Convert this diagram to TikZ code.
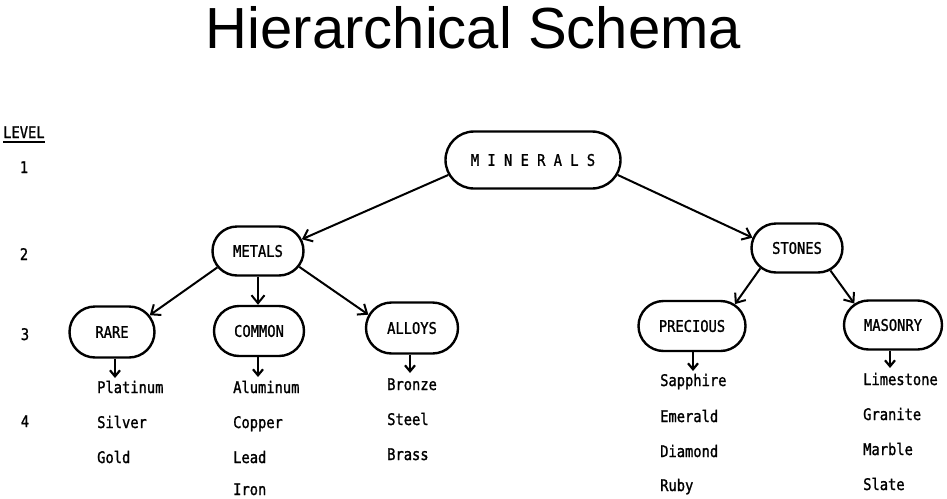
\documentclass[tikz,border=0pt]{standalone}
\usepackage{fontspec}
\usetikzlibrary{shapes.misc,arrows.meta}
\newfontfamily\titlefont{Liberation Sans}
\newfontfamily\twfont[FakeStretch=0.86,FakeBold=1.3]{DejaVu Sans Mono}
\begin{document}
\begin{tikzpicture}[x=1pt,y=-1pt,
  box/.style={rounded rectangle,draw,line width=2.4pt,inner sep=0pt,font=\twfont\fontsize{16}{18}\selectfont},
  arr/.style={line width=2pt,-{Straight Barb[length=8pt,width=13pt,line width=2pt]}},
  sarr/.style={line width=2pt,-{Straight Barb[length=6pt,width=10pt,line width=2.2pt]}},
  leaf/.style={anchor=base west,inner sep=0pt,font=\twfont\fontsize{16}{18}\selectfont},
  lvl/.style={anchor=base,inner sep=0pt,font=\twfont\fontsize{16}{18}\selectfont}]
\useasboundingbox (0,0) rectangle (947,498);
% title
\node[anchor=base,inner sep=0pt,font=\titlefont\fontsize{58}{60}\selectfont] (title) at (473.5,48) {Hierarchical Schema};
% levels
\node[anchor=base west,inner sep=0pt,font=\twfont\fontsize{16}{18}\selectfont] (level) at (3,138) {LEVEL};
\draw[line width=1.6pt] (level.base west) ++(0,4) coordinate (ulA) -- (ulA -| level.east);
\node[lvl] (l1) at (24,173) {1};
\node[lvl] (l2) at (24,260) {2};
\node[lvl] (l3) at (25,340) {3};
\node[lvl] (l4) at (25,427) {4};
% boxes
\node[box,minimum width=175pt,minimum height=57pt] (minerals) at (533,160) {M I N E R A L S};
\node[box,minimum width=91pt,minimum height=49pt] (metals) at (258,251) {METALS};
\node[box,minimum width=91pt,minimum height=49pt] (stones) at (797,248) {STONES};
\node[box,minimum width=85pt,minimum height=51pt] (rare) at (112,332) {RARE};
\node[box,minimum width=90pt,minimum height=50pt] (common) at (259,331) {COMMON};
\node[box,minimum width=92pt,minimum height=51pt] (alloys) at (412,328) {ALLOYS};
\node[box,minimum width=107pt,minimum height=50pt] (precious) at (692,326) {PRECIOUS};
\node[box,minimum width=98pt,minimum height=49pt] (masonry) at (893,325) {MASONRY};
% connectors
\draw[arr] (minerals.190) -- (metals.15);
\draw[arr] (minerals.350) -- (stones.167);
\draw[arr] (metals.202) -- (rare.24);
\draw[arr] (metals.south) -- (metals.south |- common.north);
\draw[arr] (metals.339) -- (alloys.163);
\draw[arr] (stones.209) -- (precious.27);
\draw[arr] (stones.326) -- (masonry.151);
% leaf arrows
\coordinate (rareE) at (115,378);
\coordinate (commonE) at (258,377);
\coordinate (alloysE) at (410,373);
\coordinate (preciousE) at (693,371);
\coordinate (masonryE) at (890,368);
\draw[sarr] (rare.south -| rareE) -- (rareE);
\draw[sarr] (common.south -| commonE) -- (commonE);
\draw[sarr] (alloys.south -| alloysE) -- (alloysE);
\draw[sarr] (precious.south -| preciousE) -- (preciousE);
\draw[sarr] (masonry.south -| masonryE) -- (masonryE);
% leaves
\node[leaf] (platinum) at (97,393) {Platinum};
\node[leaf] (silver) at (97,428) {Silver};
\node[leaf] (gold) at (97,463) {Gold};
\node[leaf] (aluminum) at (233,393) {Aluminum};
\node[leaf] (copper) at (233,428) {Copper};
\node[leaf] (lead) at (233,463) {Lead};
\node[leaf] (iron) at (233,495) {Iron};
\node[leaf] (bronze) at (387,390) {Bronze};
\node[leaf] (steel) at (387,425) {Steel};
\node[leaf] (brass) at (387,460) {Brass};
\node[leaf] (sapphire) at (660,386) {Sapphire};
\node[leaf] (emerald) at (660,422) {Emerald};
\node[leaf] (diamond) at (660,457) {Diamond};
\node[leaf] (ruby) at (660,491) {Ruby};
\node[leaf] (limestone) at (863,385) {Limestone};
\node[leaf] (granite) at (863,420) {Granite};
\node[leaf] (marble) at (863,455) {Marble};
\node[leaf] (slate) at (863,490) {Slate};
\end{tikzpicture}
\end{document}
